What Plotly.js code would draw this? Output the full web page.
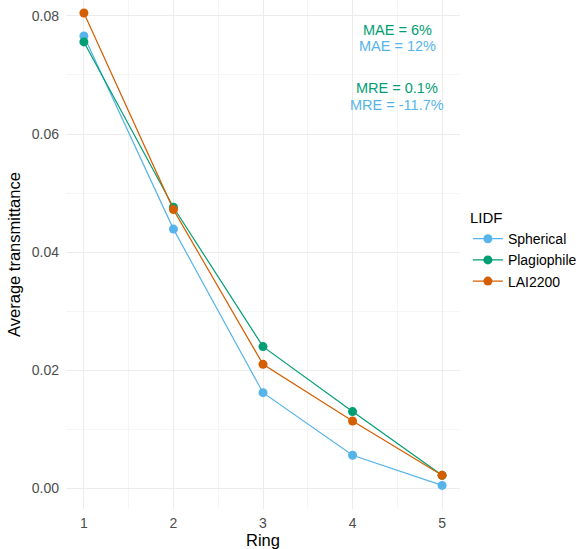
<!DOCTYPE html>
<html>
<head>
<meta charset="utf-8">
<script src="https://cdn.plot.ly/plotly-3.0.1.min.js"></script>
<style>html,body{margin:0;padding:0;background:#fff}#chart{width:587px;height:549px}</style>
</head>
<body>
<div id="chart"></div>
<script>
const rings = [1, 2, 3, 4, 5];
const spherical = [0.0766, 0.0439, 0.0162, 0.0056, 0.0005];
const plagiophile = [0.0756, 0.0476, 0.0240, 0.0130, 0.0022];
const lai2200 = [0.0805, 0.0472, 0.0210, 0.0114, 0.0022];
const seriesNames = ["Spherical", "Plagiophile", "LAI2200"];
const seriesColors = ["#56B4E9", "#009E73", "#D55E00"];
const annotTexts = ["MAE = 6%", "MAE = 12%", "MRE = 0.1%", "MRE = -11.7%"];
const annotY = [0.0776, 0.0749, 0.0678, 0.0649];
const annotColors = ["#009E73", "#56B4E9", "#009E73", "#56B4E9"];

const allSeries = [spherical, plagiophile, lai2200];
const traces = allSeries.map((vals, i) => ({
  x: rings, y: vals, type: "scatter", mode: "lines+markers",
  name: seriesNames[i],
  line: {color: seriesColors[i], width: 1.2},
  marker: {color: seriesColors[i], size: 9}
}));

const layout = {
  width: 587, height: 549,
  margin: {l: 66, r: 127, t: 0, b: 40},
  paper_bgcolor: "#fff", plot_bgcolor: "#fff",
  font: {family: "Liberation Sans, Arial, sans-serif", color: "#000"},
  xaxis: {
    range: [0.8, 5.2], tickvals: rings, ticktext: rings.map(String),
    showgrid: true, gridcolor: "#ececec", gridwidth: 1, zeroline: false,
    showline: false, ticks: "", ticklabelstandoff: 4,
    tickfont: {size: 14, color: "#4d4d4d"},
    minor: {dtick: 0.5, tick0: 0.5, showgrid: true, gridcolor: "#f5f5f5", gridwidth: 0.6},
    title: {text: "Ring", font: {size: 16.5, color: "#000"}, standoff: 0}
  },
  yaxis: {
    range: [-0.0035, 0.0827], tickvals: [0, 0.02, 0.04, 0.06, 0.08],
    ticktext: ["0.00", "0.02", "0.04", "0.06", "0.08"],
    showgrid: true, gridcolor: "#ececec", gridwidth: 1, zeroline: false,
    showline: false, ticks: "", ticklabelstandoff: 6,
    tickfont: {size: 14, color: "#4d4d4d"},
    minor: {dtick: 0.01, tick0: 0.01, showgrid: true, gridcolor: "#f5f5f5", gridwidth: 0.6},
    title: {text: "Average transmittance", font: {size: 16.5, color: "#000"}, standoff: 6}
  },
  legend: {
    x: 1.02, y: 0.6, xanchor: "left", yanchor: "top",
    title: {text: "LIDF", font: {size: 15, color: "#000"}},
    font: {size: 14, color: "#000"}, tracegroupgap: 0, itemwidth: 30
  },
  annotations: annotTexts.map((t, i) => ({
    x: 4.5, y: annotY[i], xref: "x", yref: "y", text: t, showarrow: false,
    font: {size: 14.5, color: annotColors[i]}, xanchor: "center", yanchor: "middle"
  }))
};

Plotly.newPlot("chart", traces, layout, {displayModeBar: false});
</script>
</body>
</html>
